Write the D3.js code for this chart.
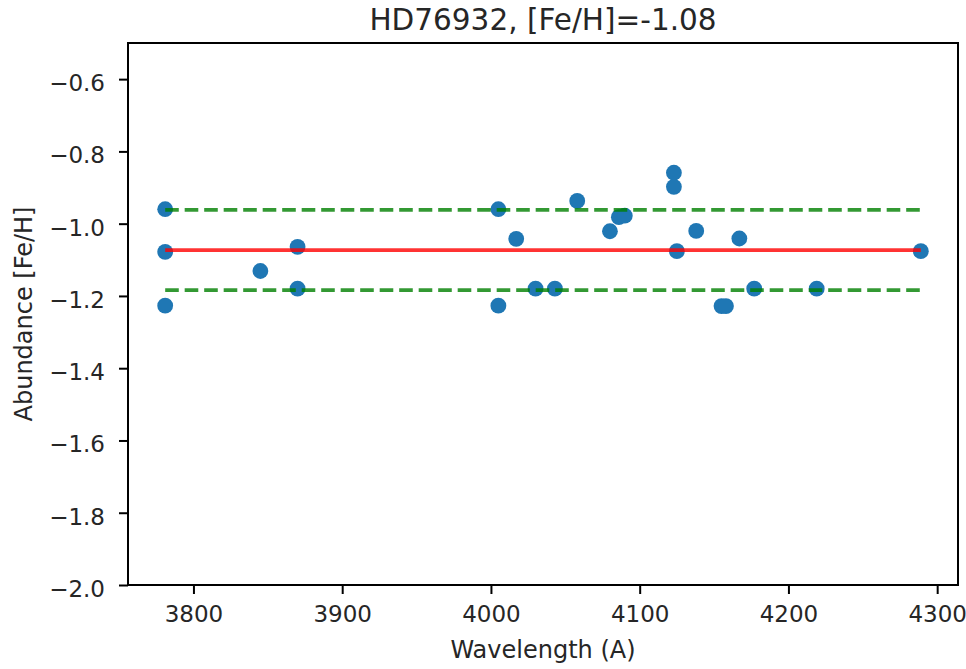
<!DOCTYPE html>
<html>
<head>
<meta charset="utf-8">
<script src="https://cdn.jsdelivr.net/npm/d3@7"></script>
<style>
  body { margin: 0; background: #fff; }
  text { font-family: "DejaVu Sans", sans-serif; }
</style>
</head>
<body>
<script>
let w = 966;
let h = 669;

// line list: wavelength (A) and abundance [Fe/H]
const wavelengths = [3781, 3781, 3781, 3845, 3870, 3870, 4005, 4005, 4017, 4030,
  4043, 4058, 4080, 4086, 4090, 4123, 4123, 4125, 4138, 4155, 4158, 4167, 4177, 4219, 4289];
const abundances = [-0.960, -1.078, -1.227, -1.131, -1.064, -1.180, -0.960, -1.227, -1.042, -1.180,
  -1.180, -0.937, -1.021, -0.982, -0.978, -0.859, -0.898, -1.076, -1.020, -1.228, -1.228, -1.041, -1.180, -1.180, -1.076];

// mean and +/- 1 sigma
const meanAbund = -1.073;
const sigmaLevels = [-0.962, -1.184];

const xTicks = [3800, 3900, 4000, 4100, 4200, 4300];
const yTicks = [-2.0, -1.8, -1.6, -1.4, -1.2, -1.0, -0.8, -0.6];

const titleText = "HD76932, [Fe/H]=-1.08";

let m = { left: 128, top: 43, right: 8, bottom: 84 };

let svg = d3.select("body").append("svg").attr("width", w).attr("height", h);

let x = d3.scaleLinear().domain([3756, 4314]).range([m.left, w - m.right]);
let y = d3.scaleLinear().domain([-2.0, -0.5]).range([h - m.bottom, m.top]);

const minus = (v) => v.toFixed(1).replace("-", "\u2212");

//dots
svg.append("g")
  .selectAll("circle")
  .data(wavelengths)
  .enter()
  .append("circle")
  .attr("cx", (d) => x(d))
  .attr("cy", (d, i) => y(abundances[i]))
  .attr("r", 7.9)
  .attr("fill", "#1f77b4");

//mean and sigma lines drawn on top
let xr = d3.extent(wavelengths);
let line = d3.line().x((d) => x(d[0])).y((d) => y(d[1]));

svg.append("path")
  .attr("d", line(xr.map((v) => [v, meanAbund])))
  .attr("fill", "none")
  .attr("stroke", "#ff0000")
  .attr("stroke-opacity", 0.8)
  .attr("stroke-width", 3.7);

sigmaLevels.forEach(function (lv) {
  svg.append("path")
    .attr("d", line(xr.map((v) => [v, lv])))
    .attr("fill", "none")
    .attr("stroke", "#008000")
    .attr("stroke-opacity", 0.8)
    .attr("stroke-width", 3.7)
    .attr("stroke-dasharray", "13.6,5.9");
});

//axes
let xAxis = svg.append("g")
  .attr("transform", `translate(0,${h - m.bottom})`)
  .call(d3.axisBottom(x).tickValues(xTicks).tickFormat(d3.format("d")).tickSize(9).tickPadding(12).tickSizeOuter(0));

let yAxis = svg.append("g")
  .attr("transform", `translate(${m.left},0)`)
  .call(d3.axisLeft(y).tickValues(yTicks).tickFormat(minus).tickSize(9).tickPadding(14).tickSizeOuter(0));

[xAxis, yAxis].forEach(function (g) {
  g.select(".domain").remove();
  g.selectAll("line").attr("stroke", "#000").attr("stroke-width", 2);
  g.selectAll("text").attr("font-size", 23).attr("fill", "#262626");
});
yAxis.selectAll("text").attr("dy", "0.5em");

//frame
svg.append("rect")
  .attr("x", m.left)
  .attr("y", m.top)
  .attr("width", w - m.left - m.right)
  .attr("height", h - m.top - m.bottom)
  .attr("fill", "none")
  .attr("stroke", "#000")
  .attr("stroke-width", 2);

//labels
svg.append("text")
  .text("Wavelength (A)")
  .attr("x", (m.left + w - m.right) / 2)
  .attr("y", 658)
  .attr("text-anchor", "middle")
  .attr("font-size", 24)
  .attr("fill", "#262626");

svg.append("text")
  .text("Abundance [Fe/H]")
  .attr("transform", `translate(32,${(m.top + h - m.bottom) / 2}) rotate(-90)`)
  .attr("text-anchor", "middle")
  .attr("font-size", 24)
  .attr("fill", "#262626");

svg.append("text")
  .text(titleText)
  .attr("x", (m.left + w - m.right) / 2)
  .attr("y", 30)
  .attr("text-anchor", "middle")
  .attr("font-size", 29.5)
  .attr("fill", "#262626");
</script>
</body>
</html>
